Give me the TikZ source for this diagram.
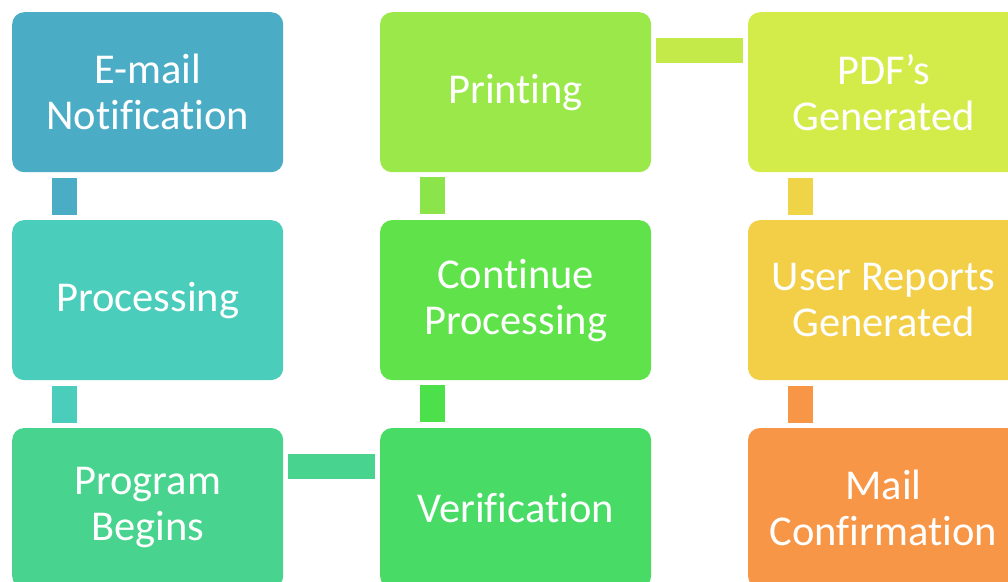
\documentclass[tikz,border=0pt]{standalone}
\usepackage{fontspec}
\setmainfont[Ligatures=NoCommon]{Carlito}
\usetikzlibrary{positioning}
\definecolor{cemail}{HTML}{4BACC6}
\definecolor{cproc}{HTML}{4BCDBB}
\definecolor{cbegin}{HTML}{48D48E}
\definecolor{cverif}{HTML}{48DB65}
\definecolor{ccont}{HTML}{60E24A}
\definecolor{cprint}{HTML}{9AE84A}
\definecolor{cpdf}{HTML}{D4EC4A}
\definecolor{cuser}{HTML}{F2CF47}
\definecolor{cmail}{HTML}{F79646}
\definecolor{lverif}{HTML}{4CE04A}
\definecolor{lcont}{HTML}{8BE54A}
\definecolor{lprint}{HTML}{C4EA4A}
\definecolor{lpdf}{HTML}{F0D448}

\begin{document}
\begin{tikzpicture}[x=1pt,y=1pt]
    \tikzset{stage/.style= {rectangle, rounded corners=12pt, minimum width=271pt, minimum height=160pt, inner sep=0pt, text=white, align=center, font={\fontsize{42.5}{46}\selectfont}} }
    \tikzset{vlink/.style= {line width=25pt, shorten <=6pt, shorten >=5pt} }
    \tikzset{hlink/.style= {line width=25pt, shorten <=5pt, shorten >=5pt} }

    \useasboundingbox (0,0) rectangle (1008,-581);
    \clip (0,0) rectangle (1008,-581);

    % first column
    \node[stage, fill=cemail, anchor=north west] (email) at (12,-12) {E-mail\\Notification};
    \node[stage, fill=cproc] (proc) [below= 47.5pt of email] {Processing};
    \node[stage, fill=cbegin] (begin) [below= 47.5pt of proc] {Program\\Begins};

    % second column
    \node[stage, fill=cverif] (verif) [right= 96.5pt of begin] {Verification};
    \node[stage, fill=ccont] (cont) [above= 47.5pt of verif] {Continue\\Processing};
    \node[stage, fill=cprint] (print) [above= 47.5pt of cont] {Printing};

    % third column
    \node[stage, fill=cpdf] (pdf) [right= 96.5pt of print] {PDF’s\\Generated};
    \node[stage, fill=cuser] (user) [below= 47.5pt of pdf] {User Reports\\Generated};
    \node[stage, fill=cmail] (mail) [below= 47.5pt of user] {Mail\\Confirmation};

    \draw[vlink, cemail] ([xshift=52.5]email.south west) -- ([xshift=52.5]proc.north west);
    \draw[vlink, cproc] ([xshift=52.5]proc.south west) -- ([xshift=52.5]begin.north west);
    \draw[hlink, cbegin] ([yshift=-38.5]begin.north east) -- ([yshift=-38.5]verif.north west);
    \draw[vlink, lverif] ([xshift=52.5]verif.north west) -- ([xshift=52.5]cont.south west);
    \draw[vlink, lcont] ([xshift=52.5]cont.north west) -- ([xshift=52.5]print.south west);
    \draw[hlink, lprint] ([yshift=-38.5]print.north east) -- ([yshift=-38.5]pdf.north west);
    \draw[vlink, lpdf] ([xshift=52.5]pdf.south west) -- ([xshift=52.5]user.north west);
    \draw[vlink, cmail] ([xshift=52.5]user.south west) -- ([xshift=52.5]mail.north west);
\end{tikzpicture}
\end{document}
